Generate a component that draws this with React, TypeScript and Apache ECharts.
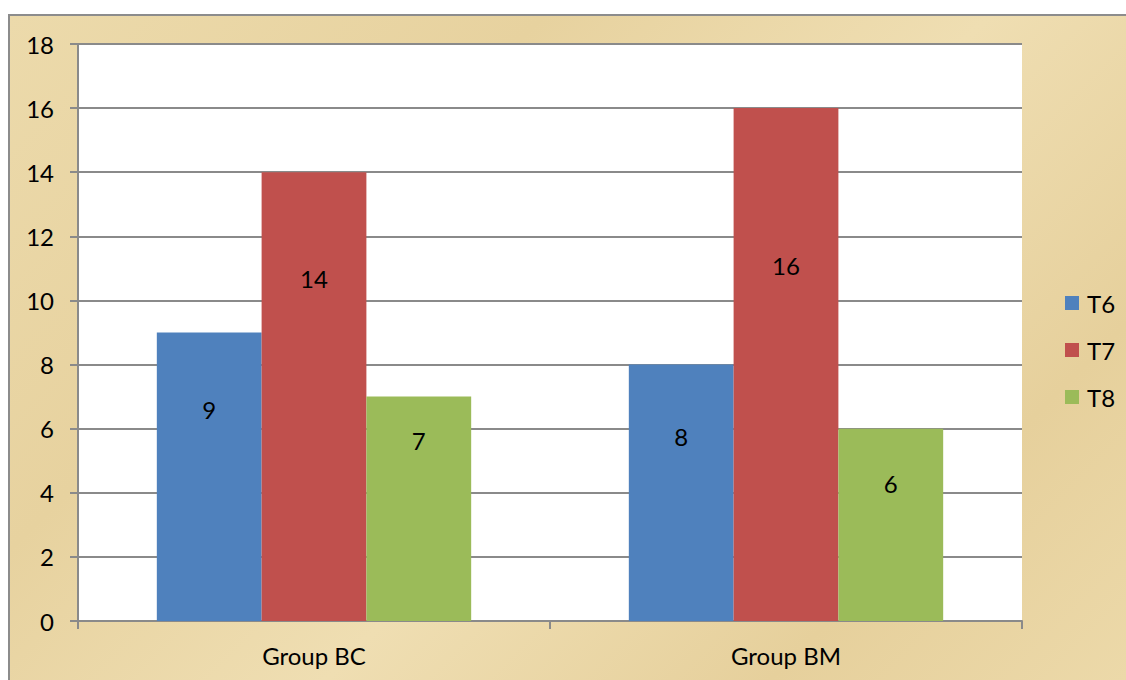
import React, { useEffect, useRef } from "react";
import * as echarts from "echarts";

const categories = ["Group BC", "Group BM"];
const seriesNames = ["T6", "T7", "T8"];
const t6Values = [9, 8];
const t7Values = [14, 16];
const t8Values = [7, 6];
const yTicks = { min: 0, max: 18, interval: 2 };

const colors = ["#4f81bd", "#c0504d", "#9bbb59"];
// distance of each data label below its bar top (style only)
const labelDistances = [
  [65, 60],
  [94, 145],
  [32, 43],
];

const FONT = "Lato, 'Liberation Sans', sans-serif";
const FS = 24;

export default function App() {
  const ref = useRef<HTMLDivElement>(null);

  useEffect(() => {
    if (!ref.current) return;
    const chart = echarts.init(ref.current, undefined, { renderer: "svg" });
    const values = [t6Values, t7Values, t8Values];
    chart.setOption({
      animation: false,
      backgroundColor: "transparent",
      textStyle: { fontFamily: FONT },
      grid: {
        left: 78,
        top: 44,
        right: 104,
        bottom: 59,
        show: true,
        backgroundColor: "#ffffff",
        borderWidth: 0,
      },
      legend: {
        orient: "vertical",
        left: 1065,
        top: 291,
        padding: 0,
        itemWidth: 14,
        itemHeight: 14,
        itemGap: 23,
        icon: "rect",
        textStyle: {
          fontFamily: FONT,
          fontSize: FS,
          lineHeight: 24,
          color: "#000",
          padding: [0, 0, 0, 3],
        },
        data: seriesNames,
      },
      xAxis: {
        type: "category",
        data: categories,
        boundaryGap: true,
        axisLine: { lineStyle: { color: "#8a8a8a", width: 2 } },
        axisTick: { show: true, length: 8, lineStyle: { color: "#8a8a8a", width: 2 } },
        axisLabel: { color: "#000", fontSize: FS, fontFamily: FONT, margin: 22 },
      },
      yAxis: {
        type: "value",
        min: yTicks.min,
        max: yTicks.max,
        interval: yTicks.interval,
        axisLine: { show: true, lineStyle: { color: "#8a8a8a", width: 2 } },
        axisTick: { show: true, length: 8, lineStyle: { color: "#8a8a8a", width: 2 } },
        axisLabel: { color: "#000", fontSize: FS, fontFamily: FONT, margin: 24 },
        splitLine: { show: true, lineStyle: { color: "#8a8a8a", width: 2 } },
      },
      series: seriesNames.map((name, si) => ({
        name,
        type: "bar",
        barGap: "0%",
        barCategoryGap: "33.4%",
        itemStyle: { color: colors[si] },
        data: values[si].map((v, ci) => ({
          value: v,
          label: {
            show: true,
            position: "insideTop",
            distance: labelDistances[si][ci],
            color: "#000",
            fontSize: FS,
            fontFamily: FONT,
          },
        })),
      })),
    });
    return () => chart.dispose();
  }, []);

  return (
    <div>
      <div
        style={{
          position: "absolute",
          left: 8,
          top: 14,
          width: 1118,
          height: 666,
          boxSizing: "border-box",
          borderTop: "2px solid #8c8c8c",
          borderLeft: "2px solid #8c8c8c",
          background:
            "linear-gradient(135deg, #ecdaab 0%, #e7d29f 30%, #efdeb2 55%, #e6d09c 80%, #ecd9a9 100%)",
        }}
      />
      <div
        ref={ref}
        style={{ position: "absolute", left: 0, top: 0, width: 1126, height: 680 }}
      />
    </div>
  );
}
